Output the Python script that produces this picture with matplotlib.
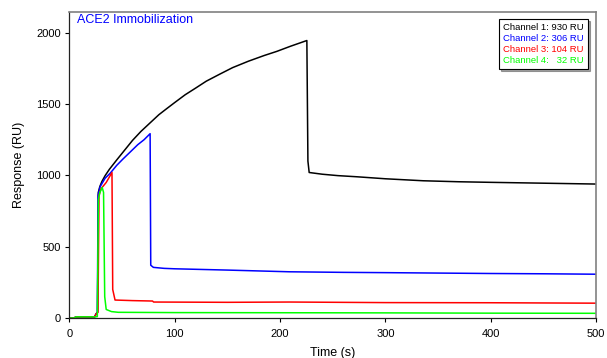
import matplotlib
matplotlib.use("Agg")
import matplotlib.pyplot as plt

plt.rcParams['font.family'] = ['Liberation Sans', 'DejaVu Sans']

# Sensorgram points (time in s, response in RU)
black_t = [0, 5, 6, 24, 25.5, 26.8, 27.5, 29, 31, 34, 38, 45, 52, 60, 68, 77, 85, 92,
           100, 110, 120, 130, 143, 155, 170, 185, 197, 210, 225.5, 226.5, 227.7, 240,
           255, 273, 300, 336, 370, 400, 450, 500]
black_r = [0, 0, 8, 8, 30, 40, 880, 922, 958, 998, 1042, 1108, 1172, 1245, 1308, 1370,
           1425, 1465, 1510, 1565, 1612, 1660, 1710, 1755, 1800, 1840, 1869, 1905, 1945,
           1100, 1020, 1008, 998, 990, 976, 962, 955, 951, 945, 939]

blue_t = [0, 5, 6, 24, 25.5, 26.6, 27.3, 29.2, 34, 38.7, 45, 51, 58, 65, 71, 76.7, 77.3,
          79.8, 90, 100, 150, 209, 260, 300, 350, 400, 450, 500]
blue_r = [0, 0, 8, 8, 30, 40, 860, 920, 980, 1014, 1070, 1115, 1165, 1215, 1250, 1292,
          370, 355, 348, 345, 336, 324, 320, 318, 315, 312, 310, 307]

red_t = [0, 5, 6, 24, 25.5, 27.2, 28.2, 30, 35, 40.5, 41.2, 43.4, 60, 79, 80, 150, 209,
         300, 400, 500]
red_r = [0, 0, 8, 8, 30, 40, 860, 905, 950, 1020, 200, 126, 122, 119, 112, 110, 112,
         108, 107, 104]

green_t = [0, 5, 6, 24, 26.6, 27.6, 29, 31.2, 32.5, 33.6, 35, 40, 46.5, 100, 200, 300,
           400, 500]
green_r = [0, 0, 8, 8, 10, 830, 880, 915, 880, 150, 60, 45, 40, 38, 37, 36, 34, 33]

labels = ["Channel 1: 930 RU", "Channel 2: 306 RU", "Channel 3: 104 RU", "Channel 4:   32 RU"]

fig = plt.figure(figsize=(6.07, 3.58), dpi=100)
ax = fig.add_axes([0.1142, 0.1117, 0.8677, 0.8548])

l1, = ax.plot(black_t, black_r, color="black", lw=1.1)
l2, = ax.plot(blue_t, blue_r, color="#0000ff", lw=1.1)
l3, = ax.plot(red_t, red_r, color="#ff0000", lw=1.1)
l4, = ax.plot(green_t, green_r, color="#00ff00", lw=1.1)

ax.set_xlim(0, 500)
ax.set_ylim(0, 2145)
ax.set_xticks([0, 100, 200, 300, 400, 500])
ax.set_yticks([0, 500, 1000, 1500, 2000])
ax.tick_params(direction="out", length=3, width=0.8, labelsize=8, pad=3)
ax.tick_params(axis="x", pad=5)

for s in ["top", "right"]:
    ax.spines[s].set_color("#808080")
    ax.spines[s].set_linewidth(1.2)
for s in ["left", "bottom"]:
    ax.spines[s].set_color("#222222")
    ax.spines[s].set_linewidth(0.9)

ax.set_xlabel("Time (s)", fontsize=9, labelpad=6)
ax.set_ylabel("Response (RU)", fontsize=9, labelpad=8)

ax.text(0.015, 0.995, "ACE2 Immobilization", color="#0000ff", fontsize=9,
        transform=ax.transAxes, ha="left", va="top")

leg = ax.legend([l1, l2, l3, l4], labels, loc="upper right",
                bbox_to_anchor=(0.984, 0.977), borderaxespad=0,
                handlelength=0, handletextpad=0, fancybox=False,
                edgecolor="black", shadow={"ox": 1.5, "oy": -1.5, "alpha": 0.5},
                fontsize=6.8, labelcolor="linecolor", labelspacing=0.22,
                borderpad=0.42, framealpha=1)
leg.get_frame().set_linewidth(0.8)

fig.savefig("out.png", dpi=100)
